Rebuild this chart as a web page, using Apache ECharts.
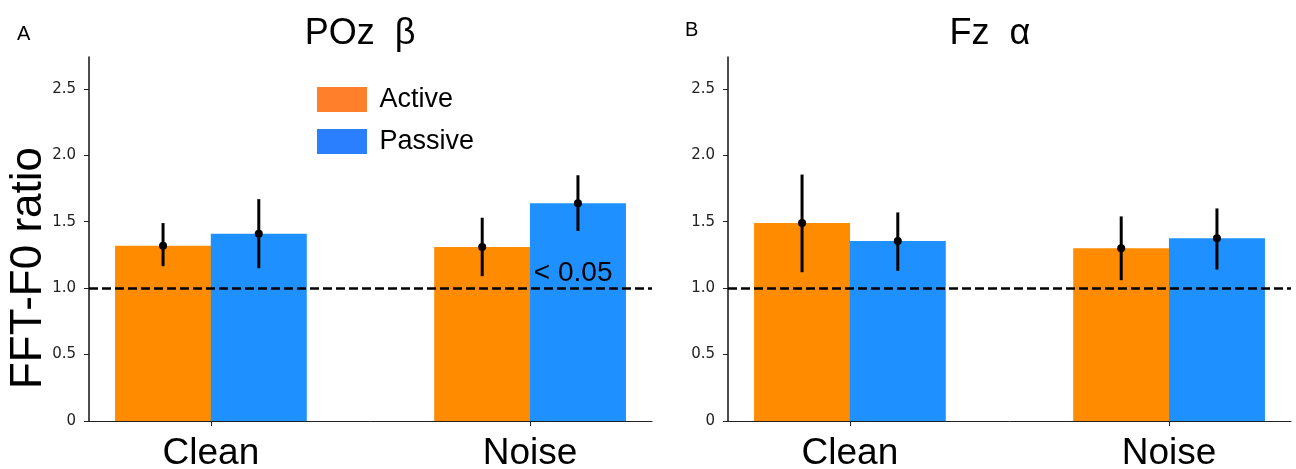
<!DOCTYPE html>
<html>
<head>
<meta charset="utf-8">
<script src="https://cdn.jsdelivr.net/npm/echarts@6/dist/echarts.min.js"></script>
<style>
html,body{margin:0;padding:0;background:#fff;}
#chart{width:1296px;height:469px;}
</style>
</head>
<body>
<div id="chart"></div>
<script>
// ---- data ----
const categories = ['Clean', 'Noise'];
const seriesNames = ['Active', 'Passive'];
const yTickValues = [0, 0.5, 1.0, 1.5, 2.0, 2.5];
const yTickLabels = ['0', '0.5', '1.0', '1.5', '2.0', '2.5'];
const panelTitles = ['POz  β', 'Fz  α'];
const panelLetters = ['A', 'B'];
const yAxisTitle = 'FFT-F0 ratio';

// Panel A: POz beta
const pozActive = [1.32, 1.31];
const pozActiveLo = [1.165, 1.09];
const pozActiveHi = [1.49, 1.53];
const pozPassive = [1.41, 1.64];
const pozPassiveLo = [1.15, 1.43];
const pozPassiveHi = [1.67, 1.85];

// Panel B: Fz alpha
const fzActive = [1.49, 1.30];
const fzActiveLo = [1.12, 1.06];
const fzActiveHi = [1.855, 1.54];
const fzPassive = [1.355, 1.375];
const fzPassiveLo = [1.13, 1.14];
const fzPassiveHi = [1.57, 1.60];

const referenceLevel = 1.0;
const annotationText = '< 0.05';
const annotationPos = [1.135, 1.11];

// ---- styling ----
const ORANGE = '#FF8C00', BLUE = '#1E90FF';
const LEG_ORANGE = '#FF7F2A', LEG_BLUE = '#2A7FFF';
const SANS = "'Liberation Sans', Arial, sans-serif";
const TICKF = "'DejaVu Sans', Verdana, sans-serif";
const BAR_OFF = 0.15;
const BAR_W = 96;

const chart = echarts.init(document.getElementById('chart'), null, {renderer: 'canvas'});

function xAxisCfg(gi) {
  return {
    type: 'value', gridIndex: gi, min: -0.382, max: 1.382,
    splitLine: {show: false},
    axisLine: {show: true, onZero: false, lineStyle: {color: '#222', width: 1}},
    axisTick: {show: true, customValues: [0, 1], length: 5, lineStyle: {color: '#222', width: 1}},
    axisLabel: {customValues: [0, 1], formatter: v => categories[Math.round(v)],
      fontFamily: SANS, fontSize: 37, color: '#000', margin: 14}
  };
}
function yAxisCfg(gi) {
  return {
    type: 'value', gridIndex: gi, min: 0, max: 2.74,
    splitLine: {show: false},
    axisLine: {show: true, onZero: false, lineStyle: {color: '#111', width: 1.5}},
    axisTick: {show: true, customValues: yTickValues, length: 5, lineStyle: {color: '#222', width: 1}},
    axisLabel: {customValues: yTickValues,
      formatter: v => yTickLabels[yTickValues.indexOf(v)] ?? String(v),
      fontFamily: TICKF, fontSize: 15, color: '#222', margin: 13}
  };
}

function barSeries(name, gi, vals, offset, color, extra) {
  return Object.assign({
    type: 'bar', name: name, xAxisIndex: gi, yAxisIndex: gi,
    barWidth: BAR_W, barGap: '-100%',
    itemStyle: {color: color},
    data: vals.map((v, i) => [i + offset, v]),
    z: 2
  }, extra || {});
}
function errSeries(gi, mean, lo, hi, offset) {
  return {
    type: 'custom', xAxisIndex: gi, yAxisIndex: gi, z: 5,
    data: mean.map((m, i) => [i + offset, m, lo[i], hi[i]]),
    encode: {x: 0, y: 1},
    renderItem: function (params, api) {
      const x = api.value(0);
      const pLo = api.coord([x, api.value(2)]);
      const pHi = api.coord([x, api.value(3)]);
      const pM = api.coord([x, api.value(1)]);
      return {type: 'group', children: [
        {type: 'line', shape: {x1: pLo[0], y1: pLo[1], x2: pHi[0], y2: pHi[1]}, style: {stroke: '#000', lineWidth: 3}},
        {type: 'circle', shape: {cx: pM[0], cy: pM[1], r: 4}, style: {fill: '#000'}}
      ]};
    }
  };
}
const refLine = {
  silent: true, symbol: ['none', 'none'], z: 4,
  label: {show: false},
  lineStyle: {color: '#000', type: [9, 4], width: 2.5},
  data: [{yAxis: referenceLevel}]
};

const option = {
  backgroundColor: '#fff',
  animation: false,
  title: [
    {text: panelTitles[0], left: 355, top: 11, textAlign: 'center', textStyle: {fontFamily: SANS, fontSize: 36, fontWeight: 'normal', color: '#000'}},
    {text: panelTitles[1], left: 985, top: 11, textAlign: 'center', textStyle: {fontFamily: SANS, fontSize: 36, fontWeight: 'normal', color: '#000'}},
    {text: panelLetters[0], left: 12, top: 19, textStyle: {fontFamily: SANS, fontSize: 20, fontWeight: 'normal', color: '#000'}},
    {text: panelLetters[1], left: 680, top: 15, textStyle: {fontFamily: SANS, fontSize: 20, fontWeight: 'normal', color: '#000'}}
  ],
  graphic: [{
    type: 'text', x: 29, y: 268, rotation: Math.PI / 2,
    style: {text: yAxisTitle, font: "44px 'Liberation Sans', Arial, sans-serif", fill: '#000', align: 'center', verticalAlign: 'middle'}
  }],
  legend: {
    left: 312, top: 81, orient: 'vertical',
    itemWidth: 50, itemHeight: 25, itemGap: 15, icon: 'rect',
    textStyle: {fontFamily: SANS, fontSize: 27, color: '#000', padding: [3, 0, 0, 7.5]},
    data: [
      {name: seriesNames[0], itemStyle: {color: LEG_ORANGE}},
      {name: seriesNames[1], itemStyle: {color: LEG_BLUE}}
    ]
  },
  grid: [
    {left: 89, right: 644, top: 57, bottom: 48, outerBoundsMode: 'none', containLabel: false},
    {left: 728, right: 5, top: 57, bottom: 48, outerBoundsMode: 'none', containLabel: false}
  ],
  xAxis: [xAxisCfg(0), xAxisCfg(1)],
  yAxis: [yAxisCfg(0), yAxisCfg(1)],
  series: [
    barSeries(seriesNames[0], 0, pozActive, -BAR_OFF, ORANGE),
    barSeries(seriesNames[1], 0, pozPassive, BAR_OFF, BLUE, {
      markLine: refLine,
      markPoint: {
        symbol: 'rect', symbolSize: 1, itemStyle: {color: 'rgba(0,0,0,0)'}, z: 6,
        label: {show: true, position: 'inside', formatter: annotationText, fontFamily: SANS, fontSize: 28, color: '#000'},
        data: [{coord: annotationPos}]
      }
    }),
    barSeries(seriesNames[0], 1, fzActive, -BAR_OFF, ORANGE),
    barSeries(seriesNames[1], 1, fzPassive, BAR_OFF, BLUE, {markLine: refLine}),
    errSeries(0, pozActive, pozActiveLo, pozActiveHi, -BAR_OFF),
    errSeries(0, pozPassive, pozPassiveLo, pozPassiveHi, BAR_OFF),
    errSeries(1, fzActive, fzActiveLo, fzActiveHi, -BAR_OFF),
    errSeries(1, fzPassive, fzPassiveLo, fzPassiveHi, BAR_OFF)
  ]
};
chart.setOption(option);
</script>
</body>
</html>
